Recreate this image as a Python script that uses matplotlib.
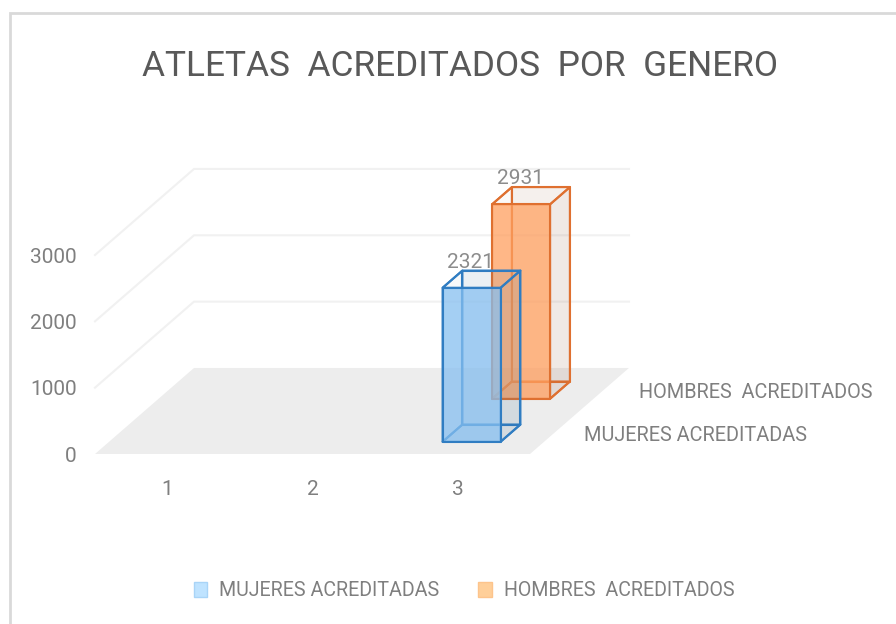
import matplotlib
matplotlib.use('Agg')
import matplotlib.pyplot as plt
from matplotlib.patches import Polygon, Patch

# Data
categories = ['1', '2', '3']
series_names = ['MUJERES ACREDITADAS', 'HOMBRES  ACREDITADOS']
mujeres = [0, 0, 2321]
hombres = [0, 0, 2931]
y_ticks = [0, 1000, 2000, 3000]

TITLE = 'ATLETAS  ACREDITADOS  POR  GENERO'

# Depth direction of the oblique view, in data units
DEPTH_X = 99 / 145
DEPTH_Y = 86 / 0.0663
GAP = 0.3
BAR_DEPTH = 0.2
FRONT_GAP = 0.285


def proj(cat, val, depth):
    return cat + depth * DEPTH_X, val + depth * DEPTH_Y


def face(ax, pts, fc, alpha, ec, z):
    xy = [proj(*p) for p in pts]
    ax.add_patch(Polygon(xy, closed=True, facecolor=matplotlib.colors.to_rgba(fc, alpha),
                         edgecolor=ec, lw=1.5, zorder=z, clip_on=False, joinstyle='round'))


def bar3d(ax, i, s, val, fc, ec, side, z):
    x0, x1 = i + GAP, i + 1 - GAP
    d0 = (s + FRONT_GAP) / 2
    d1 = d0 + BAR_DEPTH
    # back, left, floor
    face(ax, [(x0, 0, d1), (x1, 0, d1), (x1, val, d1), (x0, val, d1)], side, 0.06, ec, z)
    face(ax, [(x0, 0, d0), (x0, 0, d1), (x0, val, d1), (x0, val, d0)], side, 0.0, ec, z)
    face(ax, [(x0, 0, d0), (x1, 0, d0), (x1, 0, d1), (x0, 0, d1)], side, 0.06, ec, z)
    # top, right, front
    face(ax, [(x0, val, d0), (x1, val, d0), (x1, val, d1), (x0, val, d1)], side, 0.04, ec, z + 0.1)
    face(ax, [(x1, 0, d0), (x1, 0, d1), (x1, val, d1), (x1, val, d0)], side, 0.09, ec, z + 0.1)
    face(ax, [(x0, 0, d0), (x1, 0, d0), (x1, val, d0), (x0, val, d0)], fc, 0.75, ec, z + 0.2)


plt.rcParams['font.family'] = ['Roboto', 'DejaVu Sans']
fig = plt.figure(figsize=(8.96, 6.24), dpi=100)
fig.patches.append(plt.Rectangle((10 / 896, -0.1), 1.1, 0.1 + (624 - 13) / 624, transform=fig.transFigure,
                                 fill=False, edgecolor='#d9d9d9', lw=2))

ax = fig.add_axes([95 / 896, (624 - 454) / 624, 435 / 896, 199 / 624])
ax.set_xlim(0, 3)
ax.set_ylim(0, 3000)
ax.patch.set_visible(False)
for sp in ax.spines.values():
    sp.set_visible(False)
ax.set_xticks([i + 0.5 for i in range(3)], categories)
ax.set_yticks(y_ticks)
ax.tick_params(axis='x', length=0, pad=18.5, labelsize=15, labelcolor='#7f7f7f')
ax.tick_params(axis='y', length=0, pad=13, labelsize=15, labelcolor='#7f7f7f')

# floor
floor = [proj(0, 0, 0), proj(3, 0, 0), proj(3, 0, 1), proj(0, 0, 1)]
ax.add_patch(Polygon(floor, closed=True, facecolor='#ededed', edgecolor='none', zorder=1, clip_on=False))

# gridlines on the two walls
for v in y_ticks[1:]:
    xs, ys = zip(proj(0, v, 0), proj(0, v, 1), proj(3, v, 1))
    ax.plot(xs, ys, color='#f1f1f1', lw=1.5, zorder=1, clip_on=False)

bar3d(ax, 2, 1, hombres[2], '#ff9f5f', '#df7030', '#9c6a50', 3)
bar3d(ax, 2, 0, mujeres[2], '#86bff0', '#307dc2', '#3d6f96', 5)

# data labels
for s, val in enumerate([mujeres[2], hombres[2]]):
    d = (s + FRONT_GAP) / 2 + BAR_DEPTH
    x, y = proj(2.5, val, d)
    ax.annotate(str(val), (x, y), xytext=(-15, -1), textcoords='offset points', ha='center', va='bottom',
                fontsize=15, color='#8c8c8c', zorder=8, annotation_clip=False)

# series names along the depth axis
for s, name in enumerate(series_names):
    x, y = proj(3, 0, (s + 0.5) / 2)
    ax.annotate(name, (x, y), xytext=(21 + 4 * s, -2), textcoords='offset points', ha='left', va='center',
                fontsize=14.3, color='#7f7f7f', annotation_clip=False)

fig.text(459.5 / 896, 1 - 66 / 624, TITLE, ha='center', va='center', fontsize=25.4, color='#595959')

handles = [Patch(facecolor='#bfe3ff', edgecolor='#a9d4f7', label=series_names[0]),
           Patch(facecolor='#ffcf99', edgecolor='#fdc48c', label=series_names[1])]
fig.legend(handles=handles, loc='center', bbox_to_anchor=(464 / 896, 1 - 591 / 624), ncol=2, frameon=False,
           fontsize=14.1, labelcolor='#7f7f7f', handlelength=0.7, handleheight=0.8, columnspacing=2.0, handletextpad=0.6)

fig.savefig('out.png', dpi=100)
